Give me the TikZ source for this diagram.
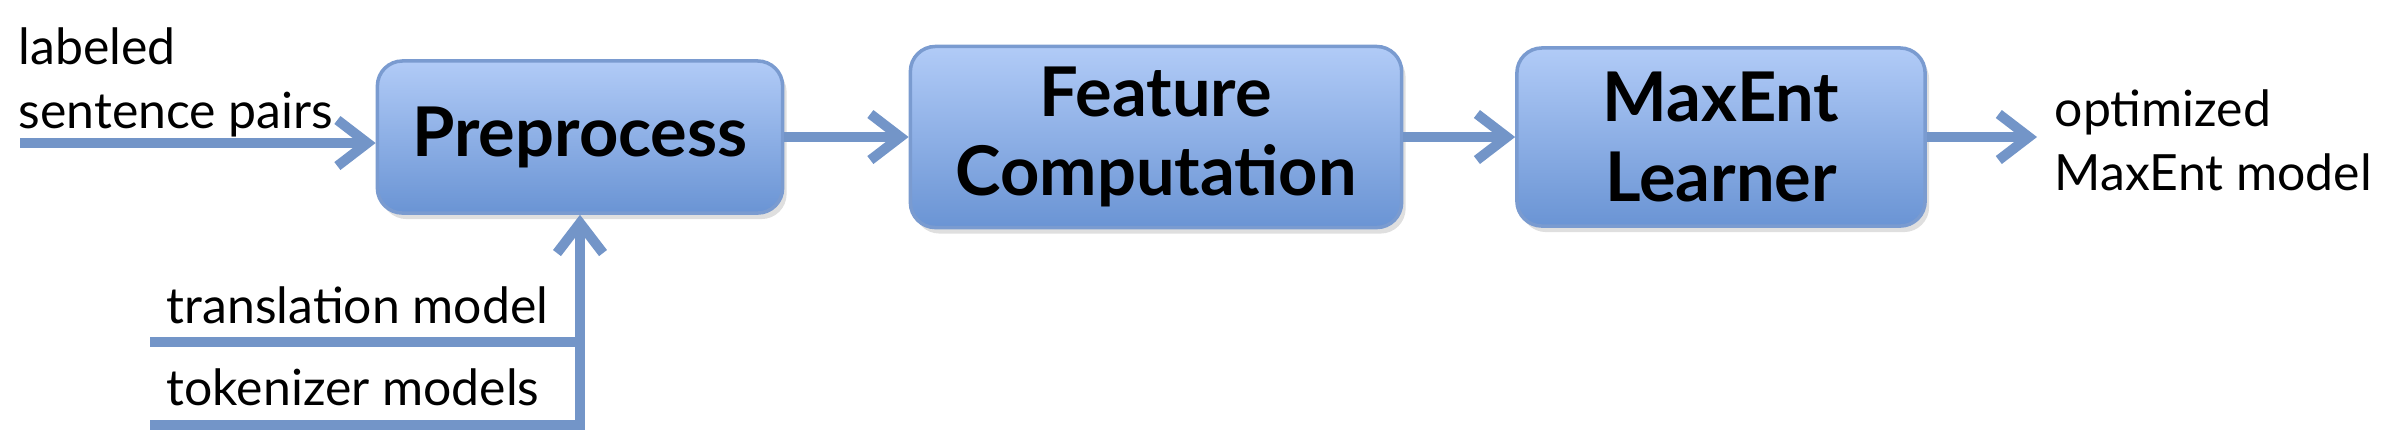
\documentclass[tikz,border=0pt]{standalone}
\usepackage{fontspec}
\setmainfont{Lato}
\usetikzlibrary{arrows.meta,calc,shadows}
\definecolor{boxtop}{HTML}{B1CBF7}
\definecolor{boxbot}{HTML}{6A94D4}
\definecolor{boxline}{HTML}{7A9BD0}
\definecolor{arrcol}{HTML}{7395C8}
\tikzset{
    block/.style = {draw=boxline, line width=1pt, rectangle, rounded corners=0.25cm,
        top color=boxtop, bottom color=boxbot,
        drop shadow={opacity=0.25, shadow xshift=0.04cm, shadow yshift=-0.06cm},
        align=center, font=\fontsize{19.5}{22.5}\selectfont\bfseries},
    label/.style = {inner sep=0pt, align=left, font=\fontsize{14.2}{18.2}\selectfont},
    arrow/.style = {draw=arrcol, line width=0.1cm,
        -{Straight Barb[length=0.3cm, width=0.46cm, line width=0.1cm]}},
    wire/.style = {draw=arrcol, line width=0.1cm}
}

\begin{document}
\begin{tikzpicture}[x=0.01cm, y=-0.01cm]
            \useasboundingbox (0,0) rectangle (2389,441);
            \node[block, minimum width=4.05cm, minimum height=1.52cm] (pre) at (580,137) {Preprocess};
            \node[block, minimum width=4.91cm, minimum height=1.81cm] (feat) at (1156,137) {Feature\\Computation};
            \node[block, minimum width=4.08cm, minimum height=1.78cm] (learn) at (1721,137) {MaxEnt\\Learner};
            \node[label, anchor=north west] (pairs) at (18,27) {labeled\\sentence pairs};
            \node[label, anchor=north west] (result) at (2054,89) {optimized\\MaxEnt model};
            \node[label, anchor=base west] (trans) at (166,323) {translation model};
            \node[label, anchor=base west] (tok) at (166,405) {tokenizer models};
            \coordinate (instart) at (20,143);
            \coordinate (outend) at (2037,137);
            \coordinate (transstart) at (150,342);
            \coordinate (tokstart) at (150,425);
            \coordinate (corner) at (580,425);
            \draw[arrow] (instart) -- (pre.west |- instart);
            \draw[arrow] (pre.east) -- (feat.west);
            \draw[arrow] (feat.east) -- (learn.west);
            \draw[arrow] (learn.east) -- (outend);
            \draw[arrow] (tokstart) -- (corner) -- (pre.south);
            \draw[wire] (transstart) -- (transstart -| corner);
        \end{tikzpicture}
\end{document}
